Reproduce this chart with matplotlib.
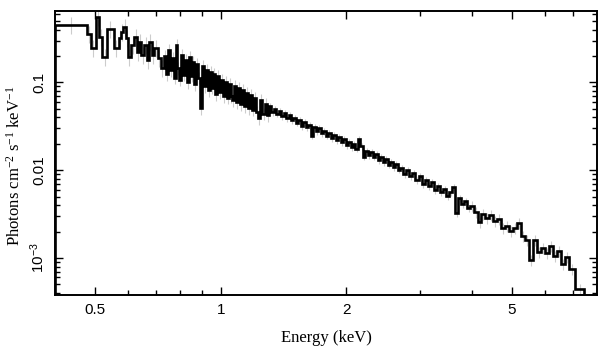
"""
Unfolded X-ray spectrum (photons cm^-2 s^-1 keV^-1 vs energy), drawn
as a binned step histogram on log-log axes with light grey error bars.
"""

import numpy as np
import matplotlib
matplotlib.use("Agg")
import matplotlib.pyplot as plt
from matplotlib.ticker import FixedLocator, FixedFormatter, LogLocator, NullFormatter

# bin edges in keV, one list per stretch of the spectrum (grouping gets coarser with energy)
EDGES_SOFT = [0.400, 0.478, 0.488, 0.501, 0.511, 0.520, 0.534, 0.553, 0.570, 0.576,
              0.584, 0.592, 0.599, 0.608, 0.620, 0.629, 0.637, 0.645, 0.655, 0.665,
              0.673, 0.682, 0.692, 0.705, 0.718, 0.731]
EDGES_DENSE = [0.739, 0.747, 0.755, 0.763, 0.771, 0.779, 0.787, 0.795, 0.803,
               0.811, 0.819, 0.828, 0.837, 0.846, 0.855, 0.864, 0.873, 0.882, 0.891,
               0.900, 0.910, 0.920, 0.930, 0.940, 0.950, 0.960, 0.970, 0.980, 0.990,
               1.000, 1.011, 1.022, 1.033, 1.044, 1.055, 1.066, 1.078, 1.090, 1.102,
               1.114, 1.126, 1.138, 1.151, 1.164, 1.177, 1.190, 1.203, 1.217, 1.231,
               1.245, 1.259, 1.274, 1.289, 1.304]
EDGES_MID = [1.322, 1.340, 1.358, 1.377, 1.396, 1.415, 1.434, 1.454, 1.474,
             1.494, 1.515, 1.536, 1.557, 1.578, 1.600, 1.622, 1.644, 1.667, 1.690,
             1.713, 1.737, 1.761, 1.785, 1.810, 1.835, 1.860, 1.886, 1.912, 1.938,
             1.965, 1.992, 2.020, 2.048, 2.076, 2.105, 2.134, 2.163, 2.193, 2.223,
             2.254, 2.285, 2.317, 2.349, 2.381, 2.414, 2.447, 2.481, 2.515, 2.550,
             2.585, 2.621, 2.657, 2.694]
EDGES_HARD = [2.740, 2.787, 2.835, 2.883, 2.932, 2.982, 3.033, 3.085, 3.138,
              3.192, 3.246, 3.301, 3.357, 3.414, 3.472, 3.531, 3.591, 3.652, 3.714,
              3.777, 3.841, 3.906, 3.972]
EDGES_TAIL = [4.06, 4.15, 4.22, 4.31, 4.41, 4.51, 4.61, 4.71, 4.82,
              4.92, 5.03, 5.15, 5.26, 5.38, 5.50, 5.62, 5.75, 5.88, 6.01,
              6.14, 6.28, 6.42, 6.56, 6.71, 6.86, 7.09, 7.45, 8.0]

# flux per bin (photons cm^-2 s^-1 keV^-1)
FLUX_SOFT = [0.452, 0.357, 0.247, 0.558, 0.330, 0.195, 0.407, 0.247, 0.321, 0.376,
             0.429, 0.321, 0.195, 0.268, 0.330, 0.223, 0.289, 0.206, 0.268, 0.180,
             0.289, 0.206, 0.247, 0.190, 0.146]
FLUX_DENSE = [0.200, 0.125, 0.235, 0.139, 0.190, 0.113, 0.268, 0.146, 0.107, 0.206,
              0.122, 0.180, 0.101, 0.195, 0.119, 0.171, 0.096, 0.162, 0.113, 0.051,
              0.154, 0.091, 0.139, 0.082, 0.132, 0.087, 0.125, 0.074, 0.119, 0.078,
              0.107, 0.070, 0.101, 0.067, 0.096, 0.070, 0.063, 0.091, 0.060, 0.087,
              0.057, 0.082, 0.054, 0.076, 0.051, 0.072, 0.049, 0.067, 0.046, 0.039,
              0.063, 0.044, 0.057, 0.042]
FLUX_MID = [0.0540, 0.0461, 0.0499, 0.0438, 0.0473, 0.0415, 0.0449, 0.0394, 0.0426, 0.0374,
            0.0394, 0.0346, 0.0374, 0.0319, 0.0355, 0.0311, 0.0328, 0.0246, 0.0311, 0.0280,
            0.0303, 0.0266, 0.0280, 0.0246, 0.0266, 0.0233, 0.0252, 0.0221, 0.0239, 0.0210,
            0.0227, 0.0194, 0.0210, 0.0184, 0.0199, 0.0175, 0.0227, 0.0189, 0.0142, 0.0166,
            0.0149, 0.0161, 0.0142, 0.0153, 0.0131, 0.0142, 0.0124, 0.0134, 0.0115, 0.0124,
            0.0109, 0.0118, 0.0101]
FLUX_HARD = [0.0106, 0.00906, 0.0101, 0.00860, 0.00930, 0.00774, 0.00860, 0.00697,
             0.00774, 0.00661, 0.00735, 0.00596, 0.00661, 0.00565, 0.00611, 0.00509,
             0.00565, 0.00644, 0.00326, 0.00483, 0.00412, 0.00446, 0.00371]
FLUX_TAIL = [0.00391, 0.00334, 0.00257, 0.00317, 0.00286, 0.00309, 0.00264, 0.00278,
             0.00220, 0.00232, 0.00203, 0.00220, 0.00251, 0.00178, 0.00160, 0.000949,
             0.00160, 0.00117, 0.00130, 0.00114, 0.00137, 0.00105, 0.00120, 0.000854,
             0.00103, 0.000749, 0.000443, 0.00025]

# rough fractional 1-sigma error, per energy band
ERR_BAND_EDGES = [0.4, 0.731, 1.304, 2.694, 3.972, 8.0]
ERR_FRACTION = [0.22, 0.16, 0.09, 0.09, 0.14]

X_TICKS = [0.5, 1, 2, 5]
X_TICK_LABELS = ["0.5", "1", "2", "5"]
X_MINOR = [0.6, 0.7, 0.8, 0.9, 3, 4, 6, 7]
Y_TICKS = [1e-3, 1e-2, 1e-1]
Y_TICK_LABELS = [r"$\mathsf{10^{-3}}$", "0.01", "0.1"]


def plot_spectrum(output_path):
    edges = np.array(EDGES_SOFT + EDGES_DENSE + EDGES_MID + EDGES_HARD + EDGES_TAIL)
    flux = np.array(FLUX_SOFT + FLUX_DENSE + FLUX_MID + FLUX_HARD + FLUX_TAIL)
    assert len(edges) == len(flux) + 1

    centers = np.sqrt(edges[:-1] * edges[1:])
    band = np.clip(np.searchsorted(ERR_BAND_EDGES, centers) - 1, 0, len(ERR_FRACTION) - 1)
    err = flux * np.array(ERR_FRACTION)[band]

    fig = plt.figure(figsize=(6.08, 3.57), dpi=100)
    ax = fig.add_axes([0.0905, 0.174, 0.8915, 0.795])

    ax.errorbar(centers, flux, yerr=err, fmt="none", ecolor="#cccccc",
                elinewidth=0.8, zorder=1)
    ax.stairs(flux, edges, color="black", linewidth=1.9, zorder=2)

    ax.set_xscale("log")
    ax.set_yscale("log")
    ax.set_xlim(0.4, 8.0)
    ax.set_ylim(3.8e-4, 0.65)

    ax.xaxis.set_major_locator(FixedLocator(X_TICKS))
    ax.xaxis.set_major_formatter(FixedFormatter(X_TICK_LABELS))
    ax.xaxis.set_minor_locator(FixedLocator(X_MINOR))
    ax.xaxis.set_minor_formatter(NullFormatter())
    ax.yaxis.set_major_locator(FixedLocator(Y_TICKS))
    ax.yaxis.set_major_formatter(FixedFormatter(Y_TICK_LABELS))
    ax.yaxis.set_minor_locator(LogLocator(base=10, subs=np.arange(2, 10)))
    ax.yaxis.set_minor_formatter(NullFormatter())

    ax.tick_params(which="both", direction="in", top=True, right=True, width=1.0)
    ax.tick_params(which="major", length=6)
    ax.tick_params(which="minor", length=3.5)
    ax.tick_params(axis="x", labelsize=11, pad=6)
    ax.tick_params(axis="y", labelsize=11, pad=6)
    for lab in ax.get_yticklabels():
        lab.set_rotation(90)
        lab.set_va("center")
    for lab in ax.get_xticklabels() + ax.get_yticklabels():
        lab.set_family("Liberation Sans")
    for spine in ax.spines.values():
        spine.set_linewidth(1.4)

    ax.set_xlabel("Energy (keV)", family="Liberation Serif", fontsize=12, labelpad=9)
    ax.set_ylabel(r"Photons cm$^{-2}$ s$^{-1}$ keV$^{-1}$", family="Liberation Serif",
                  fontsize=12)
    ax.yaxis.set_label_coords(-0.058, 0.454)

    fig.savefig(output_path, dpi=100)


if __name__ == "__main__":
    plt.rcParams["mathtext.fontset"] = "custom"
    plt.rcParams["mathtext.rm"] = "Liberation Serif"
    plt.rcParams["mathtext.it"] = "Liberation Serif:italic"
    plt.rcParams["mathtext.sf"] = "Liberation Sans"
    plot_spectrum("out.png")
